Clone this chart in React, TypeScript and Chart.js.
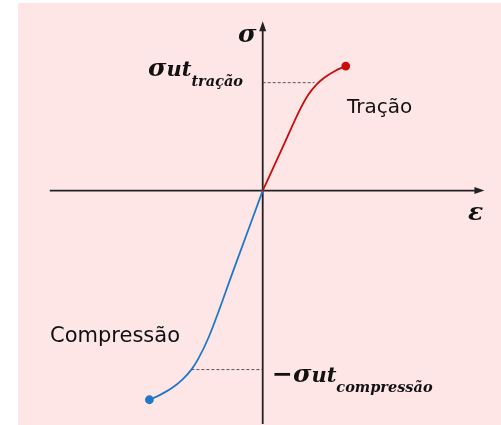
import React, { useEffect, useRef } from "react";
import { Chart, registerables } from "chart.js";

Chart.register(...registerables);

// strain (x) and stress (y) of the tension branch
const tracaoStrain = [0, 0.22, 0.38, 0.47, 0.55, 0.63, 0.74, 0.85];
const tracaoStress = [0, 0.48, 0.83, 0.99, 1.09, 1.16, 1.23, 1.28];
// compression branch
const compStrain = [0, -0.3, -0.55, -0.66, -0.73, -0.82, -0.93, -1.05, -1.16];
const compStress = [0, -0.82, -1.5, -1.73, -1.84, -1.94, -2.03, -2.1, -2.15];
// ultimate stresses marked with dashed lines
const sigmaUtTracao = 1.11;
const epsUtTracao = 0.53;
const sigmaUtComp = -1.84;
const epsUtComp = -0.73;
// axes extents
const xAxisRange = [-2.18, 2.27];
const yAxisRange = [-2.4, 1.74];

const toPts = (xs: number[], ys: number[]) => xs.map((x, i) => ({ x, y: ys[i] }));

const RED = "#cc0a0a";
const BLUE = "#1f78c8";

const decorPlugin = {
  id: "decor",
  beforeDraw(chart: any) {
    const ctx = chart.ctx;
    ctx.save();
    ctx.fillStyle = "#ffffff";
    ctx.fillRect(0, 0, chart.width, chart.height);
    ctx.fillStyle = "#ffe6e6";
    ctx.fillRect(18, 3, chart.width - 18, chart.height - 3);
    ctx.restore();
  },
  beforeDatasetsDraw(chart: any) {
    const ctx = chart.ctx;
    const xs = chart.scales.x;
    const ys = chart.scales.y;
    const x0 = xs.getPixelForValue(0);
    const y0 = ys.getPixelForValue(0);
    const xl = xs.getPixelForValue(xAxisRange[0]);
    const xr = xs.getPixelForValue(xAxisRange[1]);
    const yb = ys.getPixelForValue(yAxisRange[0]);
    const yt = ys.getPixelForValue(yAxisRange[1]);
    ctx.save();
    ctx.strokeStyle = "#222";
    ctx.fillStyle = "#222";
    ctx.lineWidth = 1.8;
    ctx.beginPath();
    ctx.moveTo(xl, y0);
    ctx.lineTo(xr - 8, y0);
    ctx.moveTo(x0, yb);
    ctx.lineTo(x0, yt + 8);
    ctx.stroke();
    ctx.beginPath();
    ctx.moveTo(xr, y0);
    ctx.lineTo(xr - 10, y0 - 3.5);
    ctx.lineTo(xr - 10, y0 + 3.5);
    ctx.closePath();
    ctx.fill();
    ctx.beginPath();
    ctx.moveTo(x0, yt);
    ctx.lineTo(x0 - 3.5, yt + 10);
    ctx.lineTo(x0 + 3.5, yt + 10);
    ctx.closePath();
    ctx.fill();
    ctx.restore();
  },
  afterDraw(chart: any) {
    const ctx = chart.ctx;
    ctx.save();
    ctx.textBaseline = "alphabetic";
    ctx.fillStyle = "#111";
    const math = (size: number) => `italic bold ${size}px "DejaVu Serif"`;
    const seq = (x: number, parts: [string, number, number][]) => {
      let cx = x;
      for (const [t, size, base] of parts) {
        ctx.font = math(size);
        ctx.fillText(t, cx, base);
        cx += ctx.measureText(t).width;
      }
    };
    seq(238, [["σ", 25, 42]]);
    seq(148, [["σ", 25, 76], ["ut", 21, 76], ["tração", 14.5, 86]]);
    seq(272, [["−σ", 25, 382], ["ut", 21, 382], ["compressão", 14.5, 392]]);
    seq(468, [["ε", 25, 220]]);
    ctx.font = '20px "DejaVu Sans"';
    ctx.fillText("Tração", 347, 113);
    ctx.font = '21px "DejaVu Sans"';
    ctx.fillText("Compressão", 50, 342);
    ctx.restore();
  },
};

export default function App() {
  const ref = useRef<HTMLCanvasElement>(null);
  useEffect(() => {
    document.body.style.margin = "0";
    const endRadius = (n: number) => (c: any) => (c.dataIndex === n - 1 ? 3.5 : 0);
    const chart = new Chart(ref.current!, {
      type: "scatter",
      data: {
        datasets: [
          {
            data: toPts(tracaoStrain, tracaoStress),
            showLine: true,
            borderColor: RED,
            backgroundColor: RED,
            borderWidth: 1.8,
            cubicInterpolationMode: "monotone",
            pointRadius: endRadius(tracaoStrain.length),
          },
          {
            data: toPts(compStrain, compStress),
            showLine: true,
            borderColor: BLUE,
            backgroundColor: BLUE,
            borderWidth: 1.8,
            cubicInterpolationMode: "monotone",
            pointRadius: endRadius(compStrain.length),
          },
          {
            data: [{ x: 0, y: sigmaUtTracao }, { x: epsUtTracao, y: sigmaUtTracao }],
            showLine: true,
            borderColor: "#444",
            borderWidth: 0.9,
            borderDash: [3, 2],
            pointRadius: 0,
          },
          {
            data: [{ x: epsUtComp, y: sigmaUtComp }, { x: 0, y: sigmaUtComp }],
            showLine: true,
            borderColor: "#444",
            borderWidth: 0.9,
            borderDash: [3, 2],
            pointRadius: 0,
          },
        ],
      } as any,
      options: {
        animation: false,
        responsive: false,
        maintainAspectRatio: false,
        layout: { padding: 0 },
        plugins: { legend: { display: false }, tooltip: { enabled: false } },
        scales: {
          x: { type: "linear", min: -2.63, max: 2.38, display: false },
          y: { type: "linear", min: -2.35, max: 1.9, display: false },
        },
      },
      plugins: [decorPlugin],
    });
    return () => chart.destroy();
  }, []);
  return (
    <div style={{ position: "absolute", left: 0, top: 0, width: 501, height: 425 }}>
      <canvas ref={ref} width={501} height={425} style={{ display: "block" }} />
    </div>
  );
}
